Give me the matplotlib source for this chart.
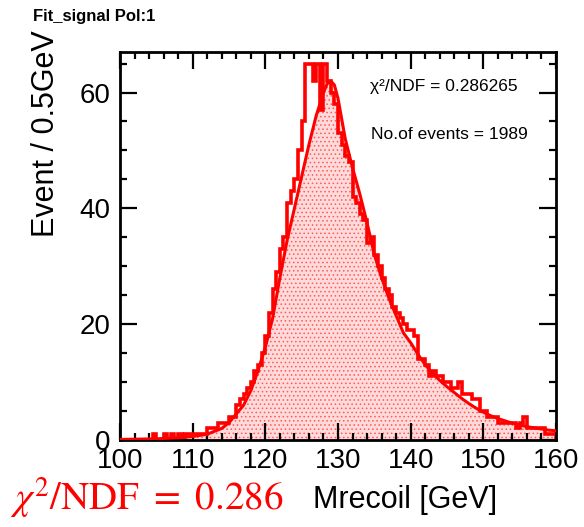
import numpy as np
import matplotlib
matplotlib.use("Agg")
import matplotlib.pyplot as plt
from matplotlib.ticker import MultipleLocator

# ----------------------------------------
# Data
# ----------------------------------------
BIN_LO, BIN_HI, BIN_W = 100.0, 160.0, 0.5

# events per 0.5 GeV bin, 100 -> 160 GeV (120 bins)
counts = [
    0, 0, 0, 0, 0, 0, 0, 0, 0, 1, 0, 0, 1, 0, 1, 0,                # 100-108
    1, 0, 1, 1, 1, 1, 1, 1, 2, 2, 2, 3, 3, 3, 4, 4, 6, 7, 8, 9,    # 108-118
    10, 12, 13, 15, 18, 22, 26, 29, 33, 35,                        # 118-123
    41, 43, 45, 50, 55, 65, 65, 62, 65, 57,                        # 123-128
    65, 62, 60, 58, 53, 51, 49, 48, 42, 41,                        # 128-133
    39, 38, 34, 35, 32, 30, 28, 26, 25, 23,                        # 133-138
    22, 21, 20, 19, 19, 18, 14, 14, 13, 11,                        # 138-143
    12, 11, 11, 10, 10, 9, 9, 10, 8, 8,                            # 143-148
    8, 7, 7, 5, 5, 4, 4, 4, 3, 3, 3, 3,                            # 148-154
    3, 2, 3, 4, 2, 2, 2, 2, 2, 1, 1, 1,                            # 154-160
]

# fit curve
fit_x = [100, 105, 108, 110, 112, 114, 115, 116, 117, 118, 119, 120,
         121, 122, 123, 124, 125, 126, 127, 128, 128.5, 129, 129.5, 130,
         131, 132, 133, 134, 135, 136, 137, 138, 139, 140, 141, 142, 143,
         144, 145, 146, 147, 148, 149, 150, 151, 152, 153, 154, 155, 156,
         157, 158, 159, 160]
fit_y = [0.1, 0.2, 0.4, 0.6, 1.0, 2.0, 3.0, 4.5, 6.0, 8.5, 12.0, 16.0,
         21.0, 28.0, 34.5, 40.0, 45.5, 51.0, 56.0, 60.0, 61.5, 62.0, 61.3, 59.0,
         52.0, 47.0, 42.5, 37.5, 32.0, 28.0, 24.5, 21.5, 18.5, 16.8, 14.8, 13.0, 11.5,
         10.3, 9.2, 8.2, 7.2, 6.3, 5.5, 4.8, 4.2, 3.7, 3.3, 2.9, 2.6, 2.3,
         2.1, 1.9, 1.7, 1.6]

chi2_ndf = "0.286265"
n_events = 1989

# ----------------------------------------
# Plot
# ----------------------------------------
plt.rcParams["font.family"] = ["Liberation Sans", "DejaVu Sans"]
plt.rcParams["mathtext.fontset"] = "stix"
plt.rcParams["hatch.linewidth"] = 0.6

W, H = 584, 527
fig = plt.figure(figsize=(W / 100, H / 100), dpi=100)
ax = fig.add_axes([120 / W, 1 - 440 / H, (556 - 120) / W, (440 - 52) / H])

edges = np.arange(BIN_LO, BIN_HI + BIN_W / 2, BIN_W)

ax.fill_between(fit_x, 0, fit_y, facecolor="#ffdada", edgecolor="#ff5a5a",
                hatch="....", linewidth=0, zorder=1)
ax.stairs(counts, edges, color="red", linewidth=2.6, zorder=2)
ax.plot(fit_x, fit_y, color="red", linewidth=2.2, zorder=3)

ax.set_xlim(BIN_LO, BIN_HI)
ax.set_ylim(0, 67)

ax.xaxis.set_major_locator(MultipleLocator(10))
ax.xaxis.set_minor_locator(MultipleLocator(2))
ax.yaxis.set_major_locator(MultipleLocator(20))
ax.yaxis.set_minor_locator(MultipleLocator(5))
ax.tick_params(which="both", direction="in", top=True, right=True, width=1.6,
               labelsize=20, color="black")
ax.tick_params(which="major", length=12)
ax.tick_params(which="minor", length=5)
ax.tick_params(axis="x", pad=6)
ax.tick_params(axis="y", pad=7)
for s in ax.spines.values():
    s.set_linewidth(2)

# labels
fig.text(33 / W, 1 - 17 / H, "Fit_signal Pol:1", fontsize=12, fontweight="bold",
         va="center", ha="left")
fig.text(46 / W, 1 - 30 / H, "Event / 0.5GeV", rotation=90, fontsize=22,
         va="top", ha="center")
fig.text(497 / W, 1 - 500 / H, "Mrecoil [GeV]", fontsize=22, va="center", ha="right")

fig.text(370 / W, 1 - 87 / H, "χ²/NDF = " + chi2_ndf, fontsize=12.5, va="center")
fig.text(371 / W, 1 - 135 / H, "No.of events = %d" % n_events, fontsize=12.5,
         va="center")

fig.text(10 / W, 1 - 498 / H, r"$\chi^2/\mathrm{NDF}\ =\ 0.286$", fontsize=28,
         color="red", va="center", ha="left")

fig.savefig("out.png", dpi=100)
